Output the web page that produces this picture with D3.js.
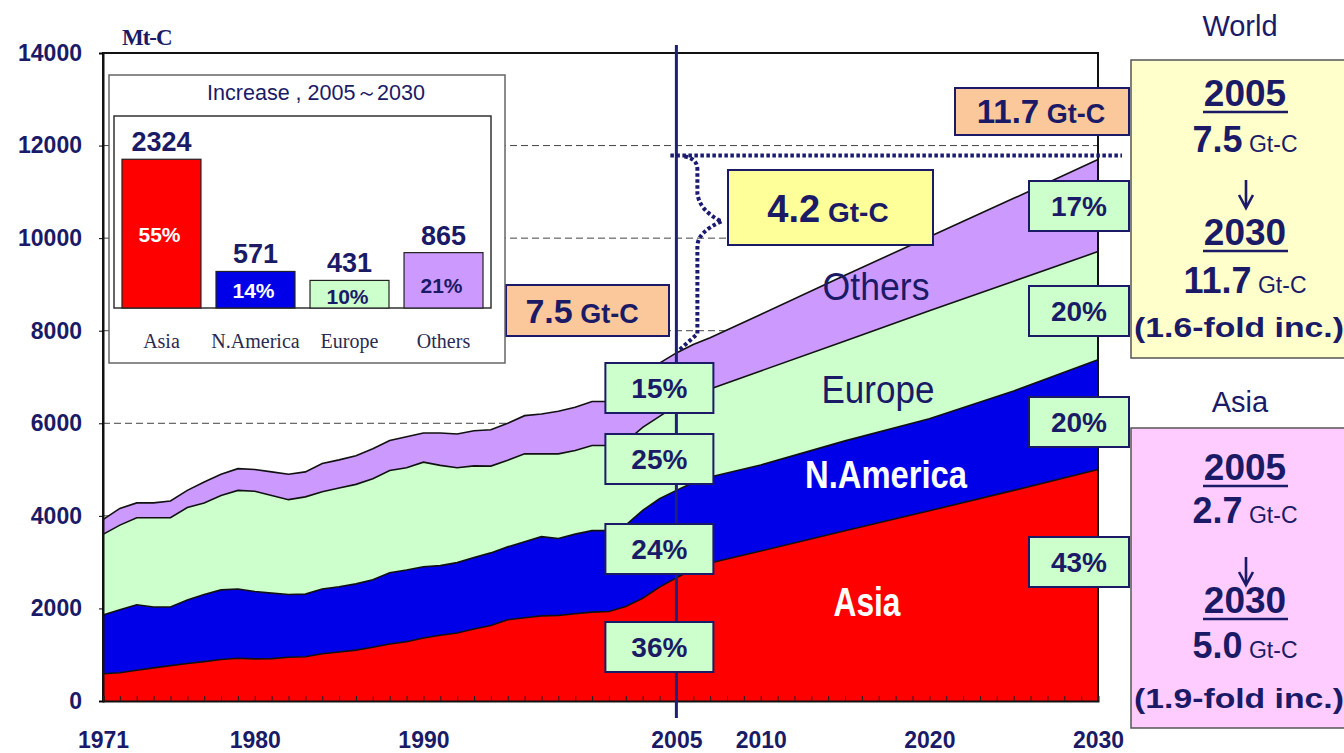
<!DOCTYPE html>
<html>
<head>
<meta charset="utf-8">
<script src="https://cdn.jsdelivr.net/npm/d3@7"></script>
<style>
  body { margin: 0; background: #fff; }
  svg { display: block; font-family: "Liberation Sans", Arial, sans-serif; }
</style>
</head>
<body>
<svg id="chart" width="1344" height="753"></svg>
<script>
// CO2 emissions by region, Mt-C
const years = [1971, 1972, 1973, 1974, 1975, 1976, 1977, 1978, 1979, 1980,
  1981, 1982, 1983, 1984, 1985, 1986, 1987, 1988, 1989, 1990,
  1991, 1992, 1993, 1994, 1995, 1996, 1997, 1998, 1999, 2000,
  2001, 2002, 2003, 2004, 2005, 2006, 2007, 2010, 2015, 2020, 2025, 2030];
const asia = [590, 610, 665, 715, 765, 810, 850, 895, 925, 910,
  915, 945, 955, 1020, 1060, 1100, 1160, 1230, 1280, 1360,
  1420, 1470, 1555, 1630, 1755, 1800, 1840, 1850, 1885, 1920,
  1935, 2040, 2220, 2460, 2660, 2850, 2980, 3240, 3680, 4110, 4550, 5000];
const nAmerica = [1270, 1360, 1415, 1315, 1265, 1370, 1450, 1505, 1495, 1455,
  1415, 1355, 1355, 1400, 1410, 1430, 1460, 1540, 1550, 1540,
  1505, 1520, 1545, 1570, 1575, 1640, 1710, 1660, 1720, 1760,
  1745, 1760, 1900, 1910, 1890, 1870, 1860, 1860, 1940, 1990, 2150, 2370];
const europe = [1740, 1830, 1880, 1930, 1930, 2000, 1980, 2040, 2130, 2165,
  2110, 2050, 2100, 2100, 2130, 2150, 2180, 2210, 2210, 2260,
  2165, 2050, 1980, 1875, 1870, 1900, 1790, 1830, 1805, 1840,
  1840, 1800, 1790, 1780, 1830, 1880, 1900, 2030, 2160, 2330, 2370, 2340];
const others = [320, 360, 320, 320, 360, 370, 450, 460, 470, 470,
  510, 550, 540, 610, 610, 620, 650, 650, 670, 630,
  700, 730, 760, 785, 800, 825, 860, 920, 935, 950,
  950, 1100, 1090, 1150, 1140, 1100, 1110, 1220, 1420, 1600, 1790, 1990];

const regions = ["Asia", "N.America", "Europe", "Others"];
const yTicks = [0, 2000, 4000, 6000, 8000, 10000, 12000, 14000];
const gridValues = [2000, 4000, 6000, 8000, 10000, 12000];
const xLabelYears = [1971, 1980, 1990, 2005, 2010, 2020, 2030];

// shares
const share2005 = ["36%", "24%", "25%", "15%"];
const share2030 = ["43%", "20%", "20%", "17%"];

// inset: increase 2005-2030
const incCats = ["Asia", "N.America", "Europe", "Others"];
const incValues = [2324, 571, 431, 865];
const incShares = ["55%", "14%", "10%", "21%"];

const navy = "#1a1a66";
const colors = ["#ff0000", "#0000e8", "#ccffcc", "#cc99ff"];

const svg = d3.select("#chart");
const x = d3.scaleLinear().domain([1971, 2030]).range([103, 1098]);
const y = d3.scaleLinear().domain([0, 14000]).range([701, 53]);

// dashed grid behind the areas
svg.append("g").selectAll("line").data(gridValues).join("line")
  .attr("x1", x(1971)).attr("x2", x(2030))
  .attr("y1", d => y(d)).attr("y2", d => y(d))
  .attr("stroke", "#444").attr("stroke-width", 1)
  .attr("stroke-dasharray", "7,4");

// stacked areas
const table = years.map((yr, i) => ({
  year: yr, "Asia": asia[i], "N.America": nAmerica[i], "Europe": europe[i], "Others": others[i]
}));
const series = d3.stack().keys(regions)(table);
const area = d3.area().x(d => x(d.data.year)).y0(d => y(d[0])).y1(d => y(d[1]));
const topLine = d3.line().x(d => x(d.data.year)).y(d => y(d[1]));

svg.append("g").selectAll("path").data(series).join("path")
  .attr("d", area).attr("fill", (d, i) => colors[i]);
svg.append("g").selectAll("path").data(series).join("path")
  .attr("d", topLine).attr("fill", "none")
  .attr("stroke", "#111").attr("stroke-width", 1.6);

// plot frame
svg.append("path")
  .attr("d", `M${x(1971)},${y(0)}V${y(14000)}H${x(2030)}V${y(0)}`)
  .attr("fill", "none").attr("stroke", "#111").attr("stroke-width", 2);

// y axis
const yAxis = svg.append("g").attr("transform", `translate(${x(1971)},0)`)
  .call(d3.axisLeft(y).tickValues(yTicks).tickSize(4).tickPadding(17).tickFormat(d3.format("d")));
yAxis.select(".domain").attr("stroke", "#111").attr("stroke-width", 2);
yAxis.selectAll("text").attr("fill", navy).attr("font-size", 23).attr("font-weight", "bold")
  .attr("font-family", "Liberation Sans, Arial, sans-serif");

// x axis: yearly inner ticks + labels
const xMinor = svg.append("g").attr("transform", `translate(0,${y(0)})`)
  .call(d3.axisBottom(x).tickValues(d3.range(1971, 2031)).tickSize(-5).tickFormat(""));
xMinor.select(".domain").attr("stroke", "#111").attr("stroke-width", 2);
xMinor.selectAll("line").attr("stroke", "#222");

const xAxis = svg.append("g").attr("transform", `translate(0,${y(0)})`)
  .call(d3.axisBottom(x).tickValues(xLabelYears).tickSize(0).tickPadding(31).tickFormat(d3.format("d")));
xAxis.select(".domain").remove();
xAxis.selectAll("text").attr("fill", navy).attr("font-size", 23).attr("font-weight", "bold")
  .attr("font-family", "Liberation Sans, Arial, sans-serif");

svg.append("text").attr("x", 122).attr("y", 45).text("Mt-C")
  .attr("font-family", "Liberation Serif, Times New Roman, serif").attr("font-weight", "bold")
  .attr("font-size", 23).attr("fill", navy).attr("letter-spacing", -1);

// area labels
const areaLabels = [
  { t: "Others", x: 876, y: 300, size: 39, w: 107, weight: "normal", fill: navy },
  { t: "Europe", x: 878, y: 403, size: 39, w: 113, weight: "normal", fill: navy },
  { t: "N.America", x: 886, y: 488, size: 39, w: 162, weight: "bold", fill: "#fff" },
  { t: "Asia", x: 867, y: 616, size: 41, w: 67, weight: "bold", fill: "#fff" }
];
svg.append("g").selectAll("text").data(areaLabels).join("text")
  .attr("x", d => d.x).attr("y", d => d.y).attr("text-anchor", "middle")
  .attr("font-size", d => d.size).attr("font-weight", d => d.weight).attr("fill", d => d.fill)
  .attr("textLength", d => d.w).attr("lengthAdjust", "spacingAndGlyphs")
  .text(d => d.t);

// 2005 vertical line
const x05 = x(2005);
svg.append("line").attr("x1", x05).attr("x2", x05).attr("y1", 45).attr("y2", 718)
  .attr("stroke", "#1f1f7a").attr("stroke-width", 3);

// dotted annotation for the increase
const yTop = y(11700) - 4;
const xv = x05 + 21;
const dotted = g => g.attr("fill", "none").attr("stroke", "#1a1a70")
  .attr("stroke-width", 4).attr("stroke-dasharray", "3.5,2.5");
svg.append("path").attr("d", `M${x05 - 6},${yTop}H${x(2030) + 24}`).call(dotted);
svg.append("path")
  .attr("d", `M${x05 + 8},${yTop + 1}Q${xv},${yTop + 3} ${xv},${yTop + 14}V${yTop + 38}Q${xv + 2},${yTop + 55} ${xv + 24},${yTop + 66}`)
  .call(dotted);
svg.append("path")
  .attr("d", `M${xv + 24},${yTop + 66}Q${xv + 1},${yTop + 76} ${xv},${yTop + 90}V${y(7500) - 20}L${x05 + 2},${y(7500) - 3}`)
  .call(dotted);

// helper for boxed texts
function box(x0, y0, w, h, fill, stroke, sw) {
  svg.append("rect").attr("x", x0).attr("y", y0).attr("width", w).attr("height", h)
    .attr("fill", fill).attr("stroke", stroke).attr("stroke-width", sw);
}
function gtText(cx, by, num, numSize, unitSize, unitWeight) {
  const t = svg.append("text").attr("x", cx).attr("y", by).attr("text-anchor", "middle")
    .attr("fill", navy).attr("font-weight", "bold");
  t.append("tspan").attr("font-size", numSize).text(num);
  t.append("tspan").attr("font-size", unitSize).attr("font-weight", unitWeight).text(" Gt-C");
  return t;
}

// share boxes at 2005 and 2030
const box05Y = [647, 549, 459, 388];
const box30Y = [562, 422, 311, 206];
share2005.forEach((s, i) => {
  box(x05 - 71, box05Y[i] - 25, 108, 50, "#ccffcc", "#1a1a66", 2);
  svg.append("text").attr("x", x05 - 17).attr("y", box05Y[i] + 10).attr("text-anchor", "middle")
    .attr("font-size", 28).attr("font-weight", "bold").attr("fill", navy).text(s);
});
share2030.forEach((s, i) => {
  box(x(2030) - 69, box30Y[i] - 25, 100, 50, "#ccffcc", "#1a1a66", 2);
  svg.append("text").attr("x", x(2030) - 19).attr("y", box30Y[i] + 10).attr("text-anchor", "middle")
    .attr("font-size", 28).attr("font-weight", "bold").attr("fill", navy).text(s);
});

// Gt-C boxes
box(506, 285, 163, 51, "#fac89a", "#1a1a66", 2);
gtText(582, 323, "7.5", 34, 27, "bold");
box(955, 88, 174, 47, "#fac89a", "#1a1a66", 2);
gtText(1041, 123, "11.7", 33, 27, "bold");
box(728, 170, 205, 75, "#ffff99", "#1a1a66", 2);
gtText(828, 222, "4.2", 38, 28, "bold");

// inset: increase 2005-2030
box(109, 75, 396, 288, "#fff", "#666", 1.5);
svg.append("text").attr("x", 316).attr("y", 100).attr("text-anchor", "middle")
  .attr("font-size", 22).attr("fill", navy).attr("textLength", 218).attr("lengthAdjust", "spacingAndGlyphs")
  .text("Increase , 2005\uFF5E2030");
box(114, 116, 377, 192, "#fff", "#333", 1.5);

const xb = d3.scaleBand().domain(incCats).range([114, 491]).paddingInner(0.16).paddingOuter(0.085);
const yb = d3.scaleLinear().domain([0, 2500]).range([308, 148]);
const inset = svg.append("g");
inset.selectAll("rect").data(incValues).join("rect")
  .attr("x", (d, i) => xb(incCats[i])).attr("width", xb.bandwidth())
  .attr("y", d => yb(d)).attr("height", d => yb(0) - yb(d))
  .attr("fill", (d, i) => colors[i]).attr("stroke", "#222").attr("stroke-width", 1.2);
inset.selectAll("text.val").data(incValues).join("text").attr("class", "val")
  .attr("x", (d, i) => xb(incCats[i]) + xb.bandwidth() / 2).attr("y", d => yb(d) - 8)
  .attr("text-anchor", "middle").attr("font-size", 27).attr("font-weight", "bold").attr("fill", navy)
  .text(d => d);
const shareY = [242, 298, 304, 293];
const shareFill = ["#fff", "#fff", navy, navy];
inset.selectAll("text.share").data(incShares).join("text").attr("class", "share")
  .attr("x", (d, i) => xb(incCats[i]) + xb.bandwidth() / 2 - 2).attr("y", (d, i) => shareY[i])
  .attr("text-anchor", "middle").attr("font-size", 21).attr("font-weight", "bold")
  .attr("fill", (d, i) => shareFill[i]).text(d => d);
inset.selectAll("text.cat").data(incCats).join("text").attr("class", "cat")
  .attr("x", d => xb(d) + xb.bandwidth() / 2).attr("y", 348)
  .attr("text-anchor", "middle").attr("font-size", 20).attr("fill", "#2a2a50")
  .attr("font-family", "Liberation Serif, Times New Roman, serif")
  .text(d => d);

// right panels
function panel(title, titleY, top, height, fill, v05, v30, fold, rows) {
  svg.append("text").attr("x", 1240).attr("y", titleY).attr("text-anchor", "middle")
    .attr("font-size", 29).attr("fill", navy).text(title);
  box(1131, top, 222, height, fill, "#555", 1.5);
  const cx = 1245;
  [["2005", rows[0]], ["2030", rows[3]]].forEach(([yr, dy]) => {
    svg.append("text").attr("x", cx).attr("y", top + dy).attr("text-anchor", "middle")
      .attr("font-size", 37).attr("font-weight", "bold").attr("fill", navy).text(yr);
    svg.append("line").attr("x1", cx - 42).attr("x2", cx + 43)
      .attr("y1", top + dy + 6).attr("y2", top + dy + 6)
      .attr("stroke", navy).attr("stroke-width", 2.5);
  });
  [[v05, rows[1]], [v30, rows[4]]].forEach(([v, dy]) => {
    const t = svg.append("text").attr("x", cx).attr("y", top + dy).attr("text-anchor", "middle").attr("fill", navy);
    t.append("tspan").attr("font-size", 36).attr("font-weight", "bold").text(v);
    t.append("tspan").attr("font-size", 23).text(" Gt-C");
  });
  // down arrow
  const ay = top + rows[2];
  svg.append("line").attr("x1", cx + 1).attr("x2", cx + 1).attr("y1", ay).attr("y2", ay + 27)
    .attr("stroke", navy).attr("stroke-width", 2.6);
  svg.append("path").attr("d", `M${cx - 6},${ay + 15}L${cx + 1},${ay + 28}L${cx + 8},${ay + 15}`)
    .attr("fill", "none").attr("stroke", navy).attr("stroke-width", 2.6);
  svg.append("text").attr("x", 1134).attr("y", top + rows[5])
    .attr("font-size", 28).attr("font-weight", "bold").attr("fill", navy)
    .attr("textLength", 210).attr("lengthAdjust", "spacingAndGlyphs").text(fold);
}
panel("World", 36, 60, 298, "#ffffcc", "7.5", "11.7", "(1.6-fold inc.)", [46, 92, 120, 185, 233, 277]);
panel("Asia", 412, 428, 300, "#ffccff", "2.7", "5.0", "(1.9-fold inc.)", [52, 95, 129, 185, 230, 280]);
</script>
</body>
</html>
